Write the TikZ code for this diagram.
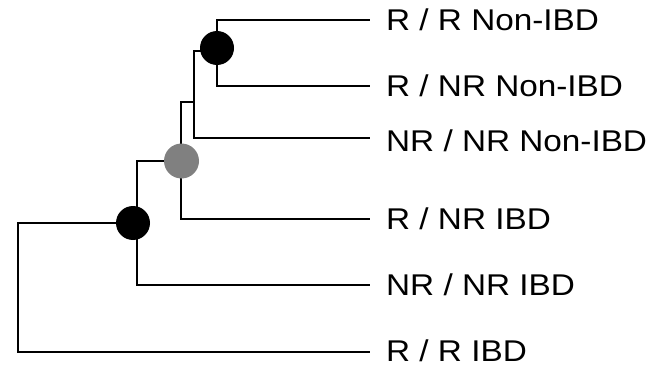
\documentclass[tikz,border=0pt]{standalone}
\usepackage{fontspec}
\setmainfont[FakeStretch=1.11]{Liberation Sans}
\begin{document}
\begin{tikzpicture}[x=1pt,y=-1pt,
  branch/.style={line width=2.8pt, line join=miter, line cap=rect},
  blk/.style={circle, fill=black, minimum size=34pt, inner sep=0pt},
  gry/.style={circle, fill=gray, minimum size=35pt, inner sep=0pt},
  leaf/.style={anchor=base west, inner sep=0pt, font=\fontsize{30}{36}\selectfont}]
\useasboundingbox (0,0) rectangle (667,369);
% junction coordinates
\coordinate (a1) at (217,20);
\coordinate (a2) at (217,86);
\coordinate (b0) at (194,51);
\coordinate (b1) at (217,51);
\coordinate (b2) at (194,138);
\coordinate (c0) at (181,102);
\coordinate (c1) at (194,102);
\coordinate (c2) at (181,219);
\coordinate (d0) at (137,161);
\coordinate (d1) at (181,161);
\coordinate (d2) at (137,285);
\coordinate (e0) at (18,223);
\coordinate (e1) at (137,223);
\coordinate (e2) at (18,352);
% leaf ends
\coordinate (l1) at (369,20);
\coordinate (l2) at (369,86);
\coordinate (l3) at (369,138);
\coordinate (l4) at (369,219);
\coordinate (l5) at (369,285);
\coordinate (l6) at (369,352);
% branches
\draw[branch] (l1) -- (a1) -- (a2) -- (l2);
\draw[branch] (b1) -- (b0) -- (b2) -- (l3);
\draw[branch] (c1) -- (c0) -- (c2) -- (l4);
\draw[branch] (d1) -- (d0) -- (d2) -- (l5);
\draw[branch] (e1) -- (e0) -- (e2) -- (l6);
% internal nodes
\node[blk] (na) at (217,48) {};
\node[gry] (nb) at (181.5,161) {};
\node[blk] (nc) at (133,223) {};
% labels
\node[leaf] (t1) at (386,30.8) {R / R Non-IBD};
\node[leaf] (t2) at (386,96.8) {R / NR Non-IBD};
\node[leaf] (t3) at (386,151) {NR / NR Non-IBD};
\node[leaf] (t4) at (386,229.8) {R / NR IBD};
\node[leaf] (t5) at (386,295.8) {NR / NR IBD};
\node[leaf] (t6) at (386,361.5) {R / R IBD};
\end{tikzpicture}
\end{document}
